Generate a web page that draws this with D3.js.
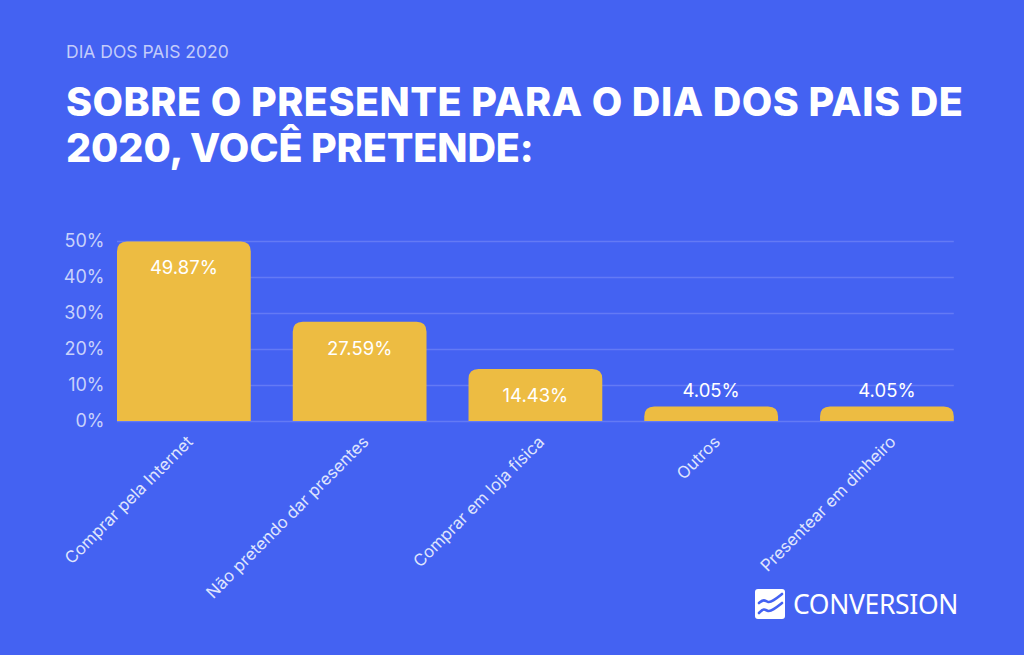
<!DOCTYPE html>
<html lang="pt">
<head>
<meta charset="utf-8">
<title>Dia dos Pais 2020</title>
<script src="https://d3js.org/d3.v7.min.js"></script>
<style>
* { margin: 0; padding: 0; }
body { background: #4462f2; overflow: hidden; }
svg { display: block; }
text { font-family: Inter, sans-serif; }
</style>
</head>
<body>
<script>
const categories = ["Comprar pela Internet", "Não pretendo dar presentes", "Comprar em loja física", "Outros", "Presentear em dinheiro"];
const values = [49.87, 27.59, 14.43, 4.05, 4.05];
const valueLabels = ["49.87%", "27.59%", "14.43%", "4.05%", "4.05%"];
const yTicks = [0, 10, 20, 30, 40, 50];
const titleLines = ["SOBRE O PRESENTE PARA O DIA DOS PAIS DE", "2020, VOCÊ PRETENDE:"];

const w = 1024, h = 655;
const svg = d3.select("body").append("svg").attr("width", w).attr("height", h);

svg.append("rect").attr("width", w).attr("height", h).attr("fill", "#4462f2");

svg.append("text").text("DIA DOS PAIS 2020")
  .attr("x", 66).attr("y", 58)
  .attr("font-size", 17.5).attr("fill", "#c3ccfa");

svg.selectAll(".title").data(titleLines).enter().append("text")
  .attr("class", "title")
  .text(d => d)
  .attr("x", 66)
  .attr("y", (d, i) => 116 + i * 46)
  .attr("font-size", 39.5).attr("font-weight", 800)
  .attr("letter-spacing", (d, i) => i == 0 ? 0.5 : -0.1) // second line runs tighter in the original
  .attr("fill", "#fff");

const x = d3.scaleBand().domain(categories).range([117, 953.8]).paddingInner(0.239).paddingOuter(0);
const y = d3.scaleLinear().domain([0, 50]).range([421, 241]);

// grid + y labels
const yAxis = svg.append("g").attr("transform", "translate(117,0)")
  .call(d3.axisLeft(y).tickValues(yTicks).tickFormat(d => d + "%").tickSize(-836.8).tickPadding(12.5));
yAxis.select(".domain").remove();
yAxis.selectAll(".tick line").attr("stroke", "#637af5").attr("stroke-width", 1.5);
yAxis.selectAll(".tick text")
  .attr("font-size", 18).attr("fill", "#c9d2fb").style("font-family", "Inter, sans-serif");

// bars, rounded on top only
function barPath(d, i) {
  const x0 = x(categories[i]), x1 = x0 + x.bandwidth();
  const top = y(d), base = y(0), r = Math.min(10, base - top);
  return `M${x0},${base}V${top + r}Q${x0},${top} ${x0 + r},${top}H${x1 - r}Q${x1},${top} ${x1},${top + r}V${base}Z`;
}
svg.append("g").selectAll("path").data(values).enter().append("path")
  .attr("d", barPath)
  .attr("fill", "#edbc42");

// value labels: inside when the bar is tall enough, else above
svg.append("g").selectAll("text").data(values).enter().append("text")
  .text((d, i) => valueLabels[i])
  .attr("x", (d, i) => x(categories[i]) + x.bandwidth() / 2)
  .attr("y", d => d > 10 ? y(d) + 33 : y(d) - 9)
  .attr("text-anchor", "middle")
  .attr("font-size", 18.5).attr("fill", "#fff");

// category labels
const xAxis = svg.append("g").attr("transform", "translate(0,421)")
  .call(d3.axisBottom(x).tickSize(0).tickPadding(0));
xAxis.select(".domain").remove();
xAxis.selectAll(".tick text")
  .attr("text-anchor", "end")
  .attr("dx", 0).attr("dy", 0).attr("y", 0)
  .attr("transform", "translate(10,22) rotate(-45)")
  .attr("font-size", 16.7).attr("fill", "#dfe4fd").style("font-family", "Inter, sans-serif");

// logo
const logo = svg.append("g").attr("transform", "translate(755,589)");
logo.append("rect").attr("width", 30).attr("height", 30).attr("rx", 3).attr("fill", "#fff");
const wave = d3.line().curve(d3.curveBasis);
[[[4, 14], [9, 10], [13, 14], [18, 12], [27, 5]], [[4, 24], [9, 19], [13, 23], [18, 21], [27, 14]]].forEach(p => {
  logo.append("path").attr("d", wave(p)).attr("fill", "none").attr("stroke", "#4462f2").attr("stroke-width", 2.6).attr("stroke-linecap", "round");
});
svg.append("text").text("CONVERSION")
  .attr("x", 793).attr("y", 614)
  .attr("font-size", 26.5).attr("font-weight", 400).attr("letter-spacing", -0.35)
  .attr("fill", "#fff").style("font-family", "'Noto Sans', sans-serif");
</script>
</body>
</html>
